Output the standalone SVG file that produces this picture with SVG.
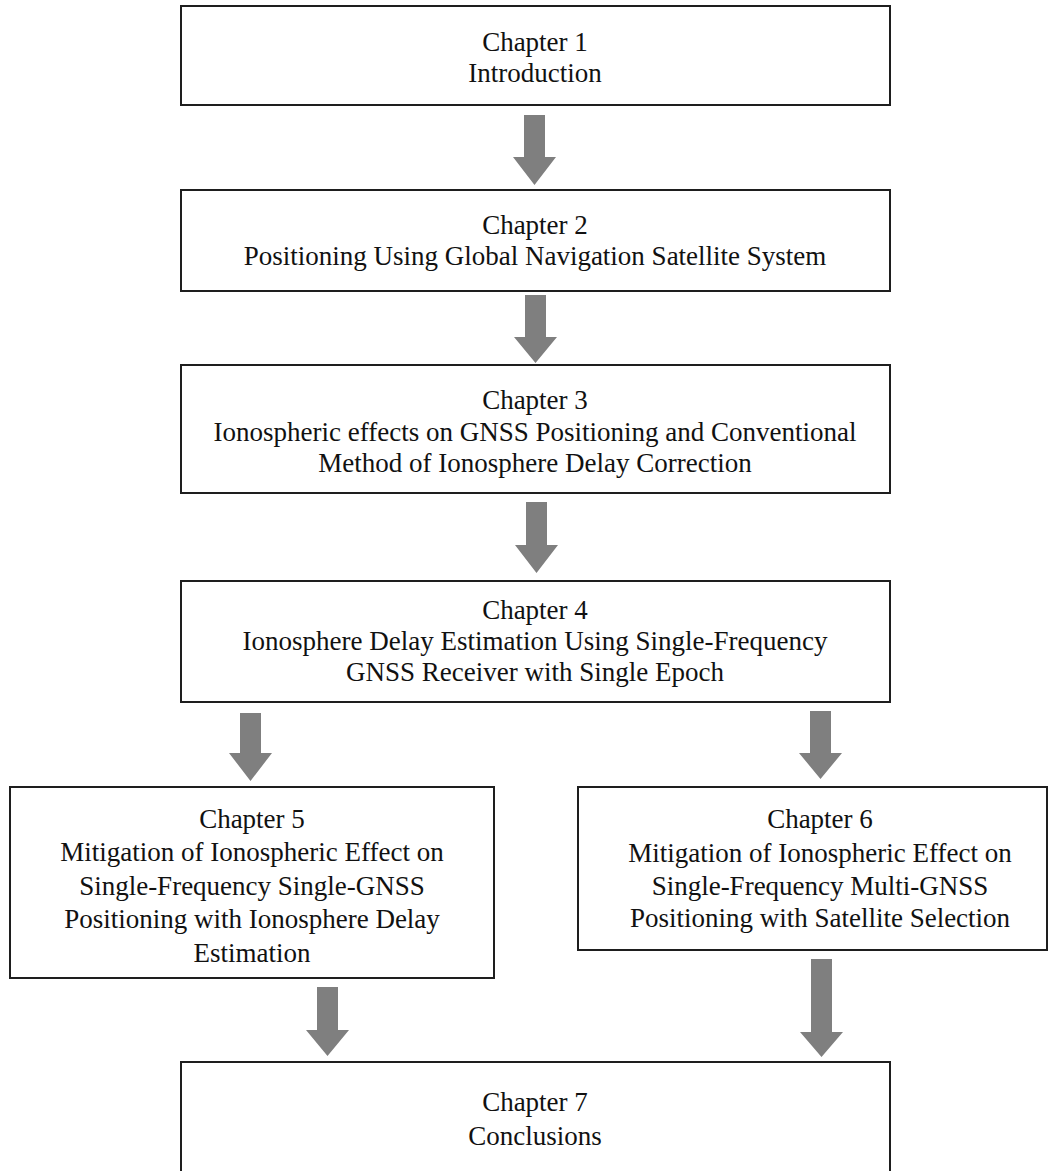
<svg xmlns="http://www.w3.org/2000/svg" width="1050" height="1171" viewBox="0 0 1050 1171">
<defs>
<style>
.box{fill:#ffffff;stroke:#1e1e1e;stroke-width:2}
.t{font-family:"Liberation Serif","Times New Roman",serif;font-size:27px;fill:#111;text-anchor:middle}
.arr{fill:#7f7f7f}
</style>
</defs>
<rect width="1050" height="1171" fill="#ffffff"/>
<g id="connectors">
<path class="arr" d="M524,115 H545 V157 H556 L534.5,185 L513,157 H524 Z"/>
<path class="arr" d="M525,295 H546 V337 H557 L535.5,363 L514,337 H525 Z"/>
<path class="arr" d="M526,502 H547 V545 H558 L536.5,573 L515,545 H526 Z"/>
<path class="arr" d="M240,713 H261 V753 H272 L250.5,781 L229,753 H240 Z"/>
<path class="arr" d="M810,711 H831 V753 H842 L820.5,779 L799,753 H810 Z"/>
<path class="arr" d="M317,987 H338 V1030 H349 L327.5,1056 L306,1030 H317 Z"/>
<path class="arr" d="M811,959 H832 V1032 H843 L821.5,1057 L800,1032 H811 Z"/>
</g>
<g id="ch1">
<rect class="box" x="181" y="6" width="709" height="99"/>
<text class="t" x="535" y="51">Chapter 1</text>
<text class="t" x="535" y="82">Introduction</text>
</g>
<g id="ch2">
<rect class="box" x="181" y="190" width="709" height="101"/>
<text class="t" x="535" y="234">Chapter 2</text>
<text class="t" x="535" y="265">Positioning Using Global Navigation Satellite System</text>
</g>
<g id="ch3">
<rect class="box" x="181" y="365" width="709" height="128"/>
<text class="t" x="535" y="409">Chapter 3</text>
<text class="t" x="535" y="441">Ionospheric effects on GNSS Positioning and Conventional</text>
<text class="t" x="535" y="472">Method of Ionosphere Delay Correction</text>
</g>
<g id="ch4">
<rect class="box" x="181" y="581" width="709" height="121"/>
<text class="t" x="535" y="619">Chapter 4</text>
<text class="t" x="535" y="650">Ionosphere Delay Estimation Using Single-Frequency</text>
<text class="t" x="535" y="681">GNSS Receiver with Single Epoch</text>
</g>
<g id="ch5">
<rect class="box" x="10" y="787" width="484" height="191"/>
<text class="t" x="252" y="828">Chapter 5</text>
<text class="t" x="252" y="861">Mitigation of Ionospheric Effect on</text>
<text class="t" x="252" y="895">Single-Frequency Single-GNSS</text>
<text class="t" x="252" y="928">Positioning with Ionosphere Delay</text>
<text class="t" x="252" y="962">Estimation</text>
</g>
<g id="ch6">
<rect class="box" x="578" y="787" width="469" height="163"/>
<text class="t" x="820" y="828">Chapter 6</text>
<text class="t" x="820" y="862">Mitigation of Ionospheric Effect on</text>
<text class="t" x="820" y="895">Single-Frequency Multi-GNSS</text>
<text class="t" x="820" y="927">Positioning with Satellite Selection</text>
</g>
<g id="ch7">
<rect class="box" x="181" y="1062" width="709" height="130"/>
<text class="t" x="535" y="1111">Chapter 7</text>
<text class="t" x="535" y="1145">Conclusions</text>
</g>
</svg>
